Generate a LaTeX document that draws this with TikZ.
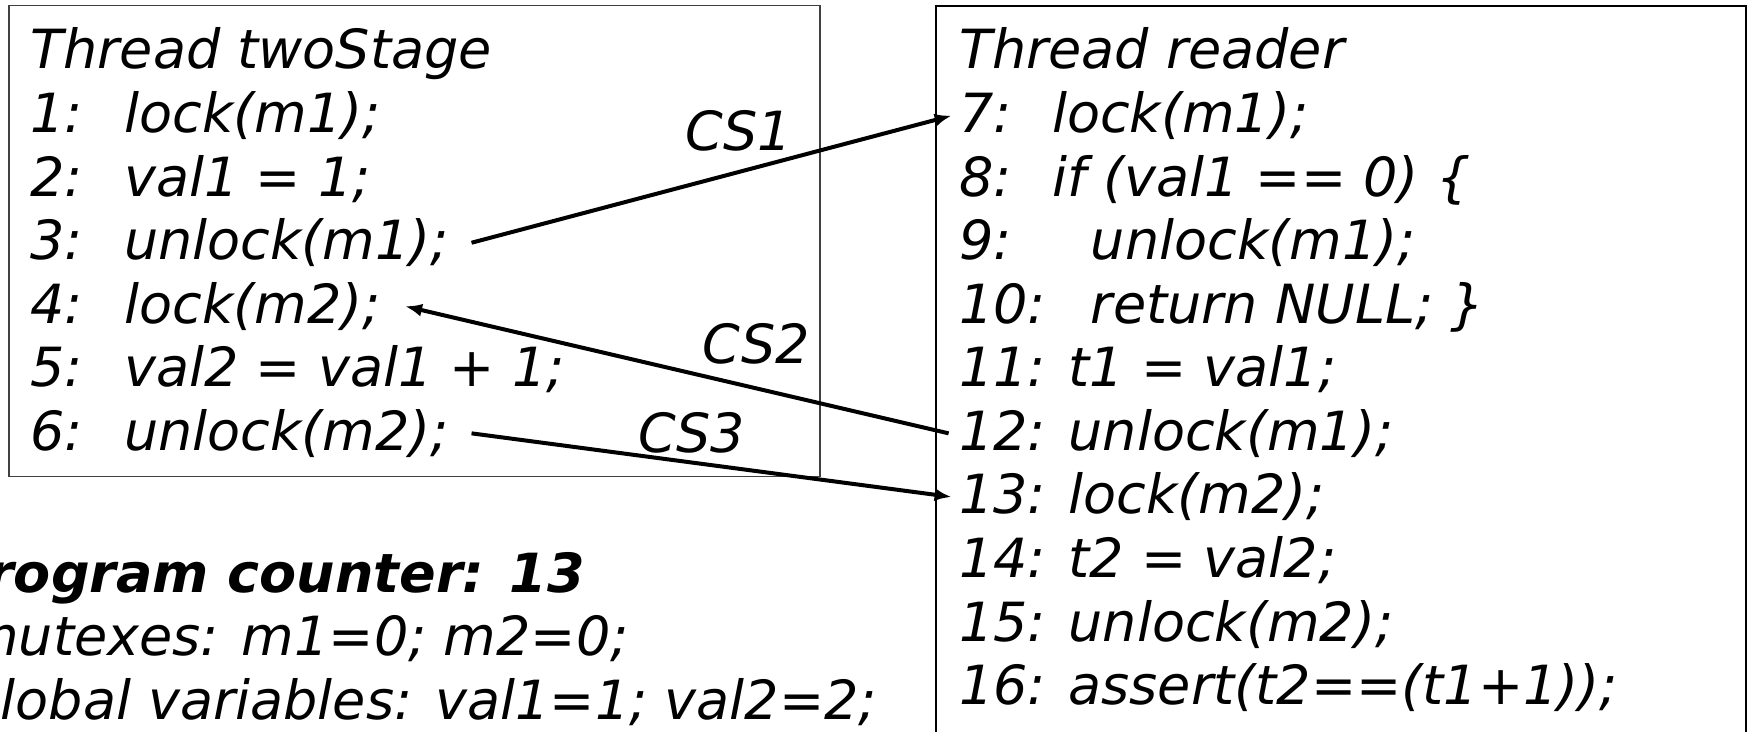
\documentclass[tikz,border=0pt]{standalone}
\usepackage{fontspec}
\setmainfont{DejaVu Sans}
\usetikzlibrary{arrows.meta}
% fixed-width number column followed by the statement
\newcommand\codeline[3]{\makebox[#1][l]{#2}#3}

\begin{document}
\begin{tikzpicture}[x=0.5pt,y=-0.5pt,
  code/.style={anchor=base west, inner sep=0pt, font=\fontsize{27}{32}\selectfont\itshape},
  bcode/.style={code, font=\fontsize{27}{32}\selectfont\bfseries\itshape},
  conn/.style={line width=2pt, -{Latex[length=8.5pt,width=6.5pt]}},
  frameL/.style={draw=black!75, line width=0.8pt},
  frameR/.style={draw=black, line width=1pt}]
\useasboundingbox (0,0) rectangle (1754,732);
\fill[white] (0,0) rectangle (1754,732);
\clip (0,0) rectangle (1754,732);

% thread frames
\draw[frameL] (9,5.6) rectangle (820,476.5);
\draw[frameR] (936,5.6) rectangle (1746,800);

% thread twoStage
\node[code] (tA) at (30,69)    {Thread twoStage};
\node[code] (l1) at (30,132.6) {\codeline{47pt}{1:}{lock(m1);}};
\node[code] (l2) at (30,196.1) {\codeline{47pt}{2:}{val1 = 1;}};
\node[code] (l3) at (30,259.7) {\codeline{47pt}{3:}{unlock(m1);}};
\node[code] (l4) at (30,323.2) {\codeline{47pt}{4:}{lock(m2);}};
\node[code] (l5) at (30,386.8) {\codeline{47pt}{5:}{val2 = val1 + 1;}};
\node[code] (l6) at (30,450.3) {\codeline{47pt}{6:}{unlock(m2);}};

% thread reader
\node[code] (tB)  at (958.6,69)    {Thread reader};
\node[code] (l7)  at (958.6,132.6) {\codeline{46.5pt}{7:}{lock(m1);}};
\node[code] (l8)  at (958.6,196.1) {\codeline{46.5pt}{8:}{if (val1 == 0) \{}};
\node[code] (l9)  at (958.6,259.7) {\codeline{66pt}{9:}{unlock(m1);}};
\node[code] (l10) at (958.6,323.2) {\codeline{66pt}{10:}{return NULL; \}}};
\node[code] (l11) at (958.6,386.8) {\codeline{54.8pt}{11:}{t1 = val1;}};
\node[code] (l12) at (958.6,450.3) {\codeline{54.8pt}{12:}{unlock(m1);}};
\node[code] (l13) at (958.6,513.9) {\codeline{54.8pt}{13:}{lock(m2);}};
\node[code] (l14) at (958.6,577.4) {\codeline{54.8pt}{14:}{t2 = val2;}};
\node[code] (l15) at (958.6,641)   {\codeline{54.8pt}{15:}{unlock(m2);}};
\node[code] (l16) at (958.6,704.5) {\codeline{54.8pt}{16:}{assert(t2==(t1+1));}};

% context-switch labels
\node[code] (cs1) at (684.6,151)   {CS1};
\node[code] (cs2) at (702.5,363.5) {CS2};
\node[code] (cs3) at (637.6,452)   {CS3};

% machine state
\node[bcode] (pc)  at (-51,592)   {Program counter: 13};
\node[code]  (mtx) at (-34,655.5) {mutexes: m1=0; m2=0;};
\node[code]  (gv)  at (-34,719)   {global variables: val1=1; val2=2;};

% context switches
\draw[conn] ([xshift=11pt]l3.east) -- ([xshift=-3.5pt]l7.west);
\draw[conn] ([xshift=-5pt]l12.west) -- ([xshift=12pt]l4.east);
\draw[conn] ([xshift=11pt]l6.east) -- ([xshift=-3.5pt]l13.west);
\end{tikzpicture}
\end{document}
